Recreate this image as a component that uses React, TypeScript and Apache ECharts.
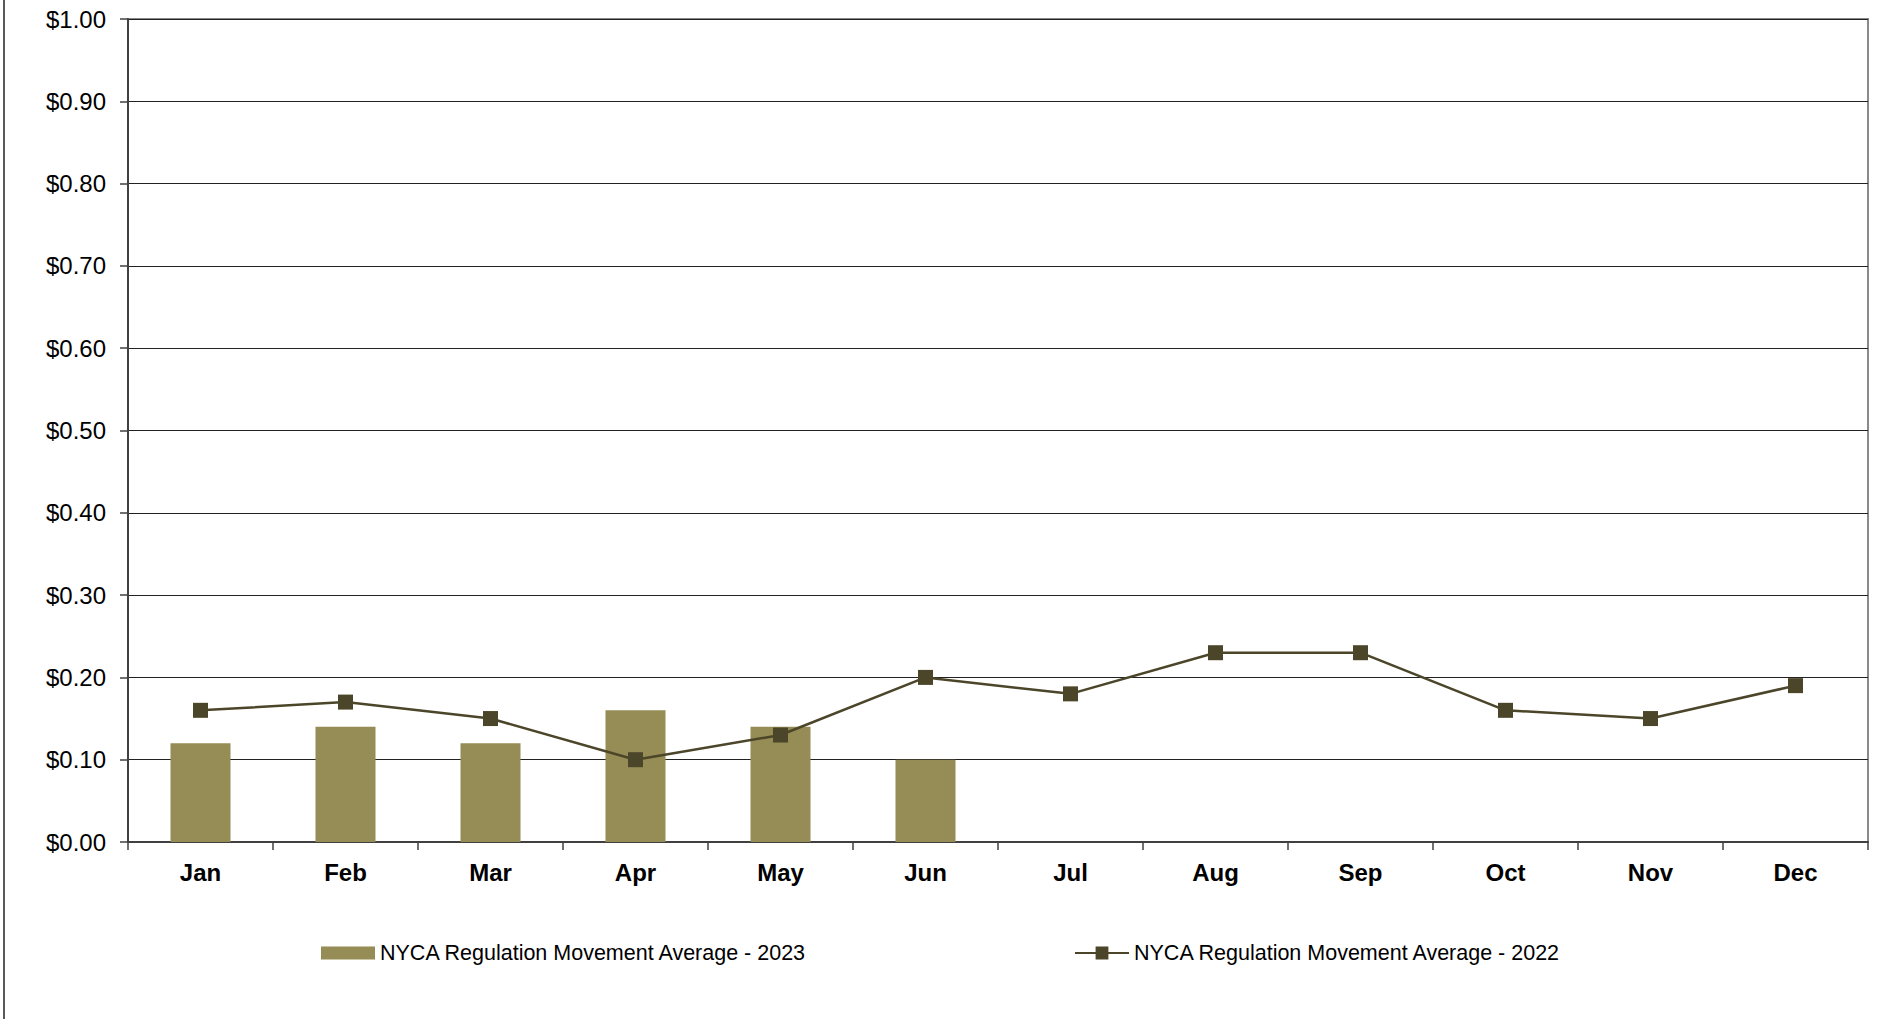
import React, { useEffect, useRef } from "react";
import * as echarts from "echarts";

const months = ["Jan", "Feb", "Mar", "Apr", "May", "Jun", "Jul", "Aug", "Sep", "Oct", "Nov", "Dec"];
const avg2023: (number | null)[] = [0.12, 0.14, 0.12, 0.16, 0.14, 0.1, null, null, null, null, null, null];
const avg2022 = [0.16, 0.17, 0.15, 0.1, 0.13, 0.2, 0.18, 0.23, 0.23, 0.16, 0.15, 0.19];
const name2023 = "NYCA Regulation Movement Average - 2023";
const name2022 = "NYCA Regulation Movement Average - 2022";

export default function App() {
  const ref = useRef<HTMLDivElement>(null);
  useEffect(() => {
    if (!ref.current) return;
    const chart = echarts.init(ref.current, null, { renderer: "svg" });
    const font = "'Liberation Sans', Arial, sans-serif";
    chart.setOption({
      animation: false,
      backgroundColor: "#ffffff",
      textStyle: { fontFamily: font },
      grid: {
        left: 128,
        top: 19,
        right: 26,
        bottom: 177,
        show: true,
        borderColor: "#8a8a8a",
        borderWidth: 2,
        backgroundColor: "transparent",
      },
      graphic: [
        {
          type: "line",
          shape: { x1: 4, y1: 0, x2: 4, y2: 1019 },
          style: { stroke: "#222", lineWidth: 1.5 },
        },
      ],
      legend: [
        {
          data: [name2023],
          left: 321,
          top: 942,
          padding: 0,
          itemWidth: 54,
          itemHeight: 13,
          icon: "rect",
          textStyle: { fontFamily: font, fontSize: 21.5, color: "#000" },
        },
        {
          data: [name2022],
          left: 1074,
          top: 942,
          padding: 0,
          itemWidth: 54,
          itemHeight: 16,
          textStyle: { fontFamily: font, fontSize: 21.5, color: "#000" },
        },
      ],
      xAxis: {
        type: "category",
        data: months,
        boundaryGap: true,
        axisLine: { lineStyle: { color: "#404040", width: 2 } },
        axisTick: { show: true, length: 8, lineStyle: { color: "#404040", width: 1.5 } },
        axisLabel: {
          margin: 18,
          fontFamily: font,
          fontSize: 24,
          fontWeight: "bold",
          color: "#000",
        },
        splitLine: { show: false },
      },
      yAxis: {
        type: "value",
        min: 0,
        max: 1,
        interval: 0.1,
        axisLine: { show: true, lineStyle: { color: "#404040", width: 2 } },
        axisTick: { show: true, length: 8, lineStyle: { color: "#404040", width: 1.5 } },
        axisLabel: {
          margin: 22,
          fontFamily: font,
          fontSize: 24,
          color: "#000",
          formatter: (v: number) => "$" + v.toFixed(2),
        },
        splitLine: { show: true, lineStyle: { color: "#222", width: 1 } },
      },
      series: [
        {
          name: name2023,
          type: "bar",
          data: avg2023,
          barWidth: 60,
          itemStyle: { color: "#968C55" },
          z: 2,
        },
        {
          name: name2022,
          type: "line",
          data: avg2022,
          symbol: "rect",
          symbolSize: 15,
          lineStyle: { color: "#4B4529", width: 2.5 },
          itemStyle: { color: "#4B4529" },
          z: 3,
        },
      ],
    });
    return () => chart.dispose();
  }, []);
  return (
    <div
      ref={ref}
      style={{ position: "fixed", left: 0, top: 0, width: 1894, height: 1019 }}
    />
  );
}
